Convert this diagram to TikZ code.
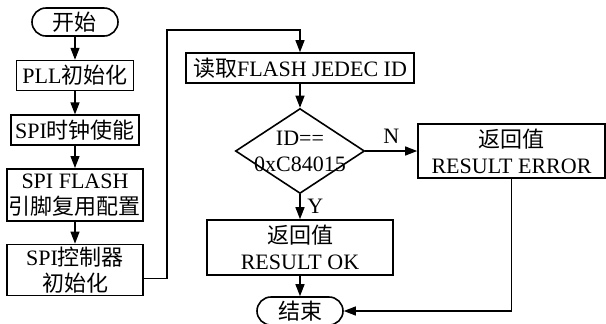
\documentclass[tikz,border=0pt]{standalone}
\usepackage{fontspec}
\setmainfont{Liberation Serif}
\newfontfamily\cjk{Noto Sans CJK SC}
\usetikzlibrary{positioning, shapes, arrows.meta}

\begin{document}
\begin{tikzpicture}[x=0.5pt, y=-0.5pt, font=\fontsize{11pt}{13pt}\selectfont,
	box/.style={rectangle, draw, line width=0.8pt, align=center, inner sep=1pt},
	term/.style={rectangle, rounded corners=7pt, draw, line width=0.8pt, minimum width=43pt, minimum height=14pt, inner sep=0pt},
	decision/.style={diamond, draw, line width=0.8pt, align=center, aspect=1.52, inner xsep=0pt, inner ysep=-4pt},
	arr/.style={line width=0.6pt, -{Triangle[length=6pt, width=4.5pt]}}]
	\useasboundingbox (0,0) rectangle (606,323);

	% Inizializzazione
	\node[term] (start) at (75,22) {\cjk 开始};
	\node[box, below=11.5pt of start, minimum width=58.5pt, minimum height=15pt] (pll) {PLL{\cjk 初始化}};
	\node[box, below=11.5pt of pll, minimum width=64pt, minimum height=15pt] (clk) {SPI{\cjk 时钟使能}};
	\node[box, below=11pt of clk, minimum width=68pt, minimum height=26pt] (pin) {SPI FLASH\\{\cjk 引脚复用配置}};
	\node[box, below=11pt of pin, minimum width=68pt, minimum height=25.5pt] (ctrl) {SPI{\cjk 控制器}\\{\cjk 初始化}};
	\coordinate (turn) at (167,30);

	% Lettura ID
	\node[box, minimum width=114pt, minimum height=15pt] (read) at (300,68) {{\cjk 读取}FLASH JEDEC ID};
	\node[decision] (chk) at (300,151) {ID==\\0xC84015};

	% Risultati
	\node[box, minimum width=93.5pt, minimum height=27pt] (err) at (511.5,151) {{\cjk 返回值}\\RESULT ERROR};
	\node[box, minimum width=93pt, minimum height=27.5pt] (ok) at (300,247.5) {{\cjk 返回值}\\RESULT OK};
	\node[term] (end) at (300,311) {\cjk 结束};

	% Connessioni
	\draw[arr] (start) -- (pll);
	\draw[arr] (pll) -- (clk);
	\draw[arr] (clk) -- (pin);
	\draw[arr] (pin) -- (ctrl);
	\draw[arr] ([yshift=-4.25pt]ctrl.east) -| (turn) -| (read.north);
	\draw[arr] (read) -- (chk);
	\draw[arr] (chk) -- node[above] {N} (err);
	\draw[arr] (chk) -- node[right] {Y} (ok);
	\draw[arr] (ok) -- (end);
	\draw[arr] (err) |- (end);
\end{tikzpicture}
\end{document}
